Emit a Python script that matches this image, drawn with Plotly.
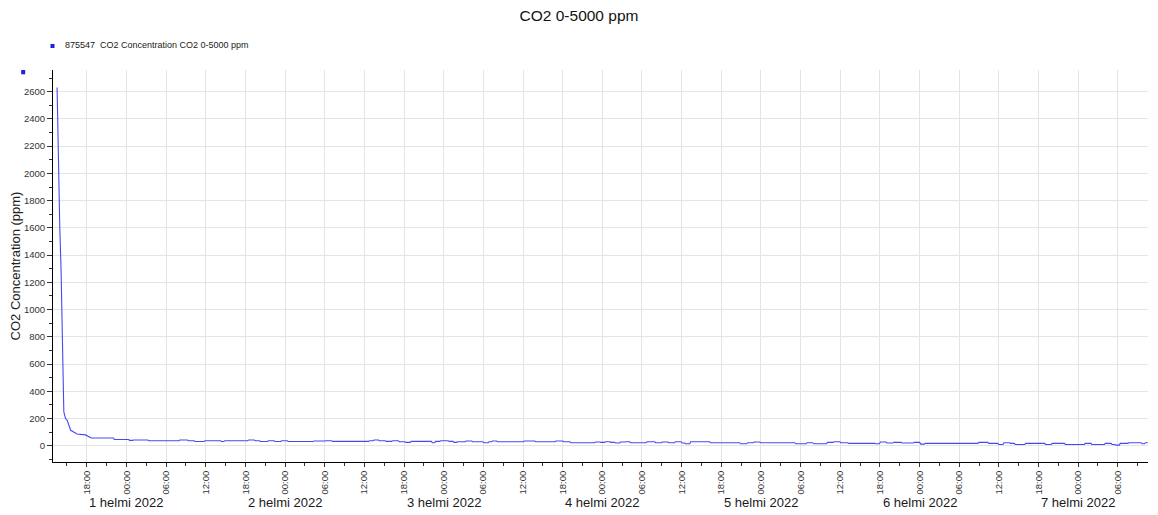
import plotly.graph_objects as go
import pandas as pd

# ---- data (hours counted from 2022-01-31 00:00) ----
series_name = "875547\u00a0 CO2 Concentration CO2 0-5000 ppm"
chart_title = "CO2 0-5000 ppm"
y_title = "CO2 Concentration (ppm)"

decay_hours = [13.50, 13.55, 13.62, 13.76, 13.91, 14.10, 14.21, 14.32, 14.43, 14.52,
               14.78, 15.03, 15.55, 16.54, 17.80, 18.56]
decay_ppm = [2630, 2490, 2190, 1890, 1600, 1300, 1010, 700, 410, 248,
             200, 187, 114, 87, 80, 60]

step_start_hours = [18.6, 22.1, 24.4, 25.0, 27.3, 32.0, 33.3, 34.3, 35.8, 38.3, 38.8, 42.4,
                    43.4, 44.2, 45.4, 46.4, 47.4, 48.4, 52.3, 54.1, 55.1, 60.7, 61.4, 62.2,
                    63.2, 64.2, 65.2, 66.2, 67.0, 70.2, 70.7, 71.5, 72.75, 73.5, 74.0, 75.3,
                    76.3, 78.0, 78.8, 79.3, 80.06, 84.1, 85.85, 88.9, 90.1, 91.15, 94.9, 95.7,
                    96.4, 97.2, 97.95, 98.7, 99.5, 100.2, 102.7, 104.0, 105.0, 106.0, 107.0,
                    108.0, 108.5, 109.3, 112.3, 116.85, 117.9, 118.9, 119.9, 125.2, 126.9,
                    127.9, 130.0, 131.0, 132.0, 133.2, 137.3, 138.0, 139.0, 140.0, 141.3,
                    143.1, 144.1, 144.8, 152.9, 154.4, 155.9, 156.7, 157.7, 158.4, 160.0,
                    163.0, 164.0, 166.0, 169.0, 170.0, 172.05, 173.05, 173.6, 174.3, 175.6,
                    177.6, 178.1]
step_ppm = [57, 46, 40, 42, 37, 42, 37, 32, 37, 32, 37, 42,
            37, 32, 37, 32, 37, 32, 35, 37.5, 32.5, 37.5, 42.5, 37.5,
            32.5, 37.5, 30, 25, 32.5, 22.5, 32.5, 37.5, 32.5, 25, 30, 35,
            30, 22.5, 30, 35, 30, 35, 30, 35, 30, 22.5, 27.5, 25,
            30, 25, 20, 27.5, 30, 22.5, 30, 22.5, 27.5, 22.5, 30,
            20, 15, 30, 22.5, 15, 22.5, 27.5, 22.5, 15, 22.5,
            15, 25, 30, 22.5, 17.5, 15, 27.5, 20, 25, 20,
            25, 12.5, 17.5, 25, 17.5, 10, 22.5, 17.5, 10, 17.5,
            10, 17.5, 10, 17.5, 10, 17.5, 10, 5, 17.5, 22.5,
            15, 22.5]
data_end_hour = 178.6

day_ticks = ["2022-02-01", "2022-02-02", "2022-02-03", "2022-02-04",
             "2022-02-05", "2022-02-06", "2022-02-07"]
day_labels = ["1 helmi 2022", "2 helmi 2022", "3 helmi 2022", "4 helmi 2022",
              "5 helmi 2022", "6 helmi 2022", "7 helmi 2022"]

x_range = ["2022-01-31 12:53", "2022-02-07 10:34"]
y_range = [-119, 2759]

# ---- build series ----
origin = pd.Timestamp("2022-01-31 00:00")
hours = list(decay_hours)
vals = list(decay_ppm)
for i, (h, v) in enumerate(zip(step_start_hours, step_ppm)):
    end = step_start_hours[i + 1] if i + 1 < len(step_start_hours) else data_end_hour
    hours += [h + 0.07, end - 0.07]
    vals += [v, v]
times = [origin + pd.Timedelta(hours=h) for h in hours]

LINE = "#4848f0"
FONT = "Liberation Sans, Arial, sans-serif"

fig = go.Figure()
fig.add_trace(go.Scatter(x=times, y=vals, mode="lines",
                         line=dict(color=LINE, width=1.1), name=series_name,
                         showlegend=False, hoverinfo="x+y"))

annotations = []
for d, lab in zip(day_ticks, day_labels):
    annotations.append(dict(x=d, y=0, xref="x", yref="paper", text=lab, showarrow=False,
                            yshift=-40, yanchor="middle", xanchor="center",
                            font=dict(size=13, color="#1a1a1a", family=FONT)))
annotations.append(dict(x=0, y=1, xref="paper", yref="paper", text=series_name,
                        showarrow=False, xanchor="left", yanchor="middle",
                        xshift=10, yshift=25,
                        font=dict(size=9, color="#1a1a1a", family=FONT)))

shapes = [
    dict(type="rect", xref="paper", yref="paper", xsizemode="pixel", ysizemode="pixel",
         xanchor=0, yanchor=1, x0=-2.5, x1=1.5, y0=22, y1=26,
         fillcolor="#2020e0", line=dict(width=0)),
    dict(type="rect", xref="paper", yref="paper", xsizemode="pixel", ysizemode="pixel",
         xanchor=0, yanchor=1, x0=-31.8, x1=-27.8, y0=-4.3, y1=0,
         fillcolor="#2020e0", line=dict(width=0)),
]

fig.update_layout(
    width=1158, height=515,
    margin=dict(l=52.5, r=10, t=70, b=53.3, autoexpand=False),
    paper_bgcolor="white", plot_bgcolor="white",
    font=dict(family=FONT, color="#333333"),
    title=dict(text=chart_title, x=0.5, xanchor="center", y=0.97, yanchor="middle",
               xref="container", font=dict(size=15.5, color="#111111", family=FONT)),
    showlegend=False,
    annotations=annotations,
    shapes=shapes,
    xaxis=dict(
        type="date", range=x_range, tick0="2022-01-31 00:00", dtick=6 * 3600 * 1000,
        tickformat="%H:%M", tickangle=-90, ticks="outside", ticklen=4, tickcolor="#333",
        tickfont=dict(size=9.5, color="#333333", family=FONT),
        showline=True, linecolor="black", linewidth=1,
        showgrid=True, gridcolor="#e4e4e4", gridwidth=1, zeroline=False,
        minor=dict(dtick=3 * 3600 * 1000, tick0="2022-01-31 00:00", ticks="outside",
                   ticklen=3, tickcolor="#333", showgrid=False),
        automargin=False,
    ),
    yaxis=dict(
        range=y_range, dtick=200, tick0=0, ticks="outside", ticklen=5, tickcolor="#333",
        tickfont=dict(size=9.5, color="#333333", family=FONT),
        showline=True, linecolor="black", linewidth=1,
        showgrid=True, gridcolor="#e4e4e4", gridwidth=1, zeroline=False,
        minor=dict(dtick=100, ticks="outside", ticklen=3, tickcolor="#333", showgrid=False),
        title=dict(text=y_title, standoff=0, font=dict(size=13, color="#222222", family=FONT)),
        automargin=False,
    ),
)

fig.write_html("out.html", config={"displayModeBar": False},
               post_script="document.body.style.margin='0';document.body.style.overflow='hidden';")
